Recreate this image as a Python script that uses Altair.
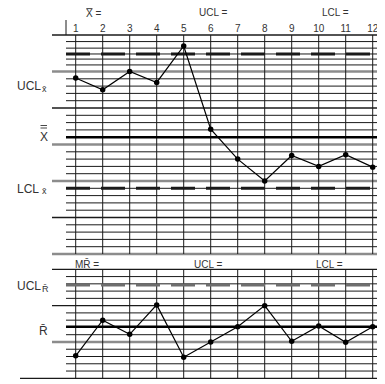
import altair as alt
import pandas as pd

# ---- data ----
samples = list(range(1, 13))
xbar_values = [24.1, 22.5, 25.0, 23.5, 28.5, 17.1, 13.0, 10.0, 13.5, 12.0, 13.6, 11.9]
mr_values = [3.1, 8.0, 6.05, 10.1, 2.9, 5.0, 7.1, 10.0, 5.1, 7.2, 4.95, 7.1]

upper_minor = [1, 2, 3, 4, 6, 7, 8, 9, 11, 12, 13, 14, 16, 17, 18, 19,
               21, 22, 23, 24, 25.9, 26.7, 27.4, 28.2, 29.1]
upper_black = [5, 20, 30]
upper_gray = [0, 10, 15, 25]
lower_minor = [1, 2, 3, 4, 6, 7, 8, 9, 11, 12, 13, 14]
lower_black = [10, 15]
lower_gray = [5]
lower_base = [0]

xbar_center = [16]
xbar_ucl = [27.4]
xbar_lcl = [9]
mr_center = [7.1]
mr_ucl = [12.85]

# ---- layout ----
W, H = 369, 376
FONT = "Liberation Sans"
INK = "#1a1a1a"

xs = alt.Scale(domain=[1, 12], range=[67.7, 364.7])
ys_up = alt.Scale(domain=[0, 30], range=[246, 27])
ys_lo = alt.Scale(domain=[0, 15], range=[370.3, 261.3])


def hlines(vals, scale, x0, color, width, dash=None):
    kw = dict(color=color, strokeWidth=width)
    if dash:
        kw["strokeDash"] = dash
    return alt.Chart(pd.DataFrame({"v": vals})).mark_rule(**kw).encode(
        y=alt.Y("v:Q", scale=scale, axis=None),
        x=alt.value(x0), x2=alt.value(W))


def label(t, x, y, size=10, align="left", color="#333"):
    return alt.Chart(alt.Data(values=[{"t": t}])).mark_text(
        align=align, baseline="middle", fontSize=size, font=FONT, color=color
    ).encode(x=alt.value(x), y=alt.value(y), text="t:N")


def bar(x0, x1, y, width=0.9):
    return alt.Chart(pd.DataFrame({"v": [0]})).mark_rule(color="#333", strokeWidth=width).encode(
        x=alt.value(x0), x2=alt.value(x1), y=alt.value(y))


sdf = pd.DataFrame({"s": samples})
X = alt.X("s:Q", scale=xs, axis=None)

layers = [
    # upper grid
    hlines(upper_minor, ys_up, 58, INK, 1),
    hlines(upper_gray, ys_up, 44, "#8c8c8c", 2.5),
    hlines(upper_black, ys_up, 44, INK, 1.3),
    alt.Chart(sdf).mark_rule(color=INK, strokeWidth=1).encode(
        x=X, y=alt.value(27), y2=alt.value(246)),
    # lower grid
    hlines(lower_minor, ys_lo, 58, INK, 1),
    hlines(lower_gray, ys_lo, 44, "#8c8c8c", 2.5),
    hlines(lower_black, ys_lo, 44, INK, 1.3),
    hlines(lower_base, ys_lo, 12, INK, 1.3),
    alt.Chart(sdf).mark_rule(color=INK, strokeWidth=1).encode(
        x=X, y=alt.value(261.3), y2=alt.value(370.3)),
    # left bracket of number row
    alt.Chart(sdf.head(1)).mark_rule(color=INK, strokeWidth=1).encode(
        x=alt.value(58), y=alt.value(12), y2=alt.value(27)),
    # centre lines and limits
    hlines(xbar_center, ys_up, 58, "black", 2.6),
    hlines(xbar_ucl, ys_up, 58, INK, 3, [24, 11]),
    hlines(xbar_lcl, ys_up, 58, INK, 3, [24, 11]),
    hlines(mr_center, ys_lo, 58, "black", 2.6),
    hlines(mr_ucl, ys_lo, 58, "#6e6e6e", 3, [24, 11]),
]

up_df = pd.DataFrame({"s": samples, "v": xbar_values})
lo_df = pd.DataFrame({"s": samples, "v": mr_values})
for df, sc in ((up_df, ys_up), (lo_df, ys_lo)):
    Y = alt.Y("v:Q", scale=sc, axis=None)
    layers.append(alt.Chart(df).mark_line(color="black", strokeWidth=1.2).encode(x=X, y=Y))
    layers.append(alt.Chart(df).mark_circle(color="black", size=30, opacity=1).encode(x=X, y=Y))

# sample numbers
layers.append(alt.Chart(sdf).mark_text(fontSize=10, font=FONT, color="#333", baseline="middle").encode(
    x=X, y=alt.value(21), text="s:N"))

# header texts
layers += [
    label("X =", 78, 5.5),
    bar(78.3, 84.5, 0.6),
    label("UCL =", 191, 5),
    label("LCL =", 314, 5),
    label("MR\u0304 =", 67, 257),
    label("UCL =", 186, 257),
    label("LCL =", 308, 257),
    # left labels
    label("UCL", 9, 78, 12),
    label("x\u0304", 34, 81, 9),
    label("X", 32, 128.5, 12),
    bar(32.5, 39, 117.5),
    bar(32.5, 39, 120),
    label("LCL", 9, 180.5, 12),
    label("x\u0304", 34, 183, 9),
    label("UCL", 9, 277.5, 12),
    label("R\u0304", 34, 280.5, 9),
    label("R\u0304", 31, 323, 12),
]

chart = alt.layer(*layers).resolve_scale(y="independent").properties(
    width=W, height=H, padding=0, autosize=alt.AutoSizeParams(type="none")
).configure_view(stroke=None)

chart.save("out.html", embed_options={"renderer": "svg", "actions": False})
